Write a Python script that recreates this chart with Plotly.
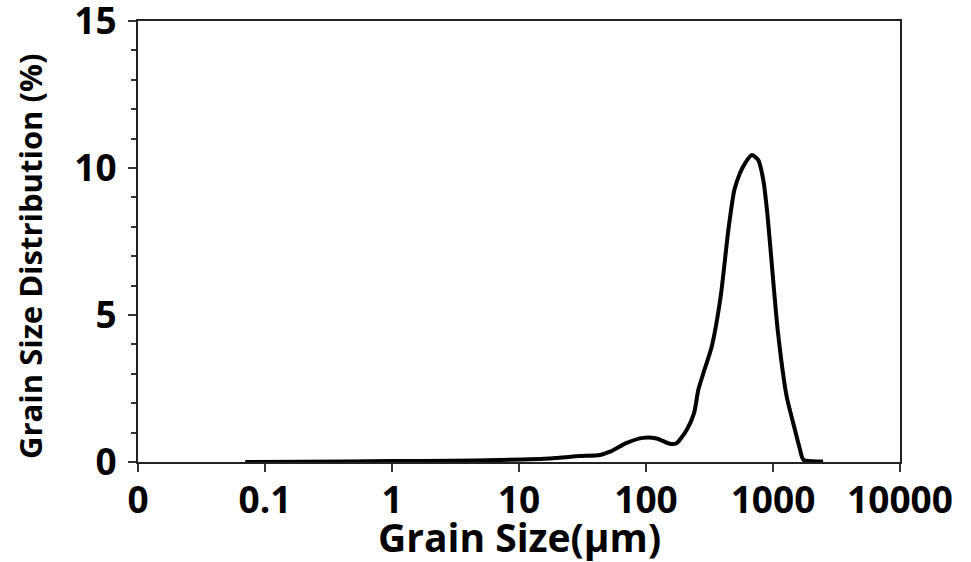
import plotly.graph_objects as go

# Data (grain size in µm, distribution in %)
grain_size_um = [0.07, 0.19, 1.0, 2.9, 7.1, 17.5, 30, 43.5, 52, 70.5, 94.7, 121, 154, 174,
                 209, 239, 258, 283, 329, 387, 445, 496, 549, 602, 680, 766, 839, 902, 977,
                 1089, 1282, 1490, 1611, 1738, 2478]
distribution_pct = [0.0, 0.01, 0.03, 0.04, 0.07, 0.12, 0.2, 0.24, 0.35, 0.65, 0.82, 0.80, 0.62, 0.64,
                    1.09, 1.66, 2.45, 3.02, 3.92, 5.62, 7.89, 9.25, 9.82, 10.16, 10.44, 10.27, 9.59, 8.46, 6.76,
                    4.49, 2.22, 1.09, 0.52, 0.07, 0.02]

x_tickvals = [0.01, 0.1, 1, 10, 100, 1000, 10000]
x_ticktext = ["0", "0.1", "1", "10", "100", "1000", "10000"]
y_tickvals = [0, 5, 10, 15]

FONT = "Open Sans"

fig = go.Figure()
fig.add_trace(go.Scatter(
    x=grain_size_um, y=distribution_pct, mode="lines",
    line=dict(color="black", width=4, shape="spline", smoothing=0.6),
    showlegend=False, cliponaxis=False,
))

fig.update_layout(
    width=971, height=562,
    margin=dict(l=138, r=71, t=21, b=100),
    paper_bgcolor="white", plot_bgcolor="white",
    font=dict(family=FONT, color="black"),
)
fig.update_xaxes(
    type="log", range=[-2, 4], automargin=False,
    tickvals=x_tickvals, ticktext=x_ticktext,
    tickfont=dict(family=FONT, size=37, color="black", weight="bold"),
    ticks="outside", ticklen=8, tickwidth=1.5, tickcolor="#333",
    showline=True, linecolor="#222", linewidth=2, mirror=True,
    showgrid=False, zeroline=False, ticklabeloverflow="allow", ticklabelstandoff=-3,
)
fig.update_yaxes(
    range=[0, 15.0001], tickvals=y_tickvals, automargin=False,
    tickfont=dict(family=FONT, size=37, color="black", weight="bold"),
    ticks="outside", ticklen=8, tickwidth=1.5, tickcolor="#333",
    minor=dict(dtick=1, ticks="outside", ticklen=5, tickcolor="#333", tickwidth=1.5),
    showline=True, linecolor="#222", linewidth=2, mirror=True,
    showgrid=False, zeroline=False, ticklabelstandoff=4, ticklabeloverflow="allow",
)
fig.add_annotation(
    text="<b>Grain Size Distribution (%)</b>", textangle=-90,
    xref="paper", yref="paper", x=(30 - 138) / 762, y=(462 - 257) / 441,
    xanchor="center", yanchor="middle", showarrow=False,
    font=dict(family=FONT, size=31, color="black"),
)
fig.add_annotation(
    text="<b>Grain Size(μm)</b>",
    xref="paper", yref="paper", x=0.5, y=(462 - 536) / 441,
    xanchor="center", yanchor="middle", showarrow=False,
    font=dict(family=FONT, size=39, color="black"),
)

fig.write_html("out.html")
